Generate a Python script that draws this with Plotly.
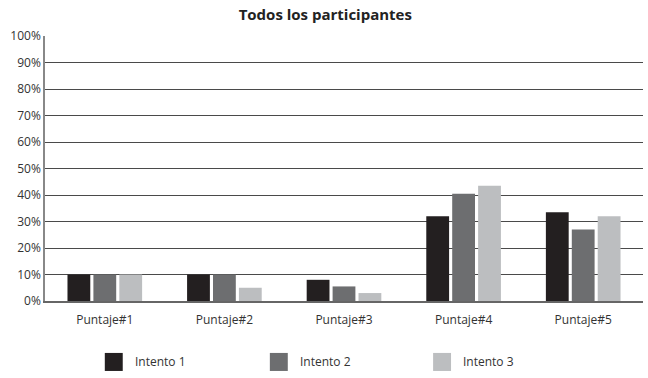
import plotly.graph_objects as go

categories = ["Puntaje#1", "Puntaje#2", "Puntaje#3", "Puntaje#4", "Puntaje#5"]
series_names = ["Intento 1", "Intento 2", "Intento 3"]
intento1 = [10, 10, 8, 32, 33.5]
intento2 = [10, 10, 5.5, 40.5, 27]
intento3 = [10, 5, 3, 43.5, 32]
series_values = [intento1, intento2, intento3]
colors = ["#231f20", "#6d6e70", "#bcbec0"]
y_ticks = list(range(0, 101, 10))
y_tick_labels = [f"{v}%" for v in y_ticks]

fig = go.Figure()
for name, vals, c in zip(series_names, series_values, colors):
    fig.add_trace(go.Bar(x=categories, y=vals, name=name, marker_color=c,
                         marker_line_width=0, showlegend=False))

# legend drawn as squares + labels below the plot
legend_x = [0.100, 0.376, 0.649]
for name, c, lx in zip(series_names, colors, legend_x):
    fig.add_shape(type="rect", xref="paper", yref="paper",
                  x0=lx, x1=lx + 0.030, y0=-0.264, y1=-0.196,
                  fillcolor=c, line_width=0)
    fig.add_annotation(text=name, xref="paper", yref="paper", x=lx + 0.047, y=-0.230,
                       xanchor="left", yanchor="middle", showarrow=False,
                       font=dict(size=12, color="#333"))

fig.update_layout(
    width=648, height=378,
    margin=dict(l=45, r=5, t=36, b=77),
    paper_bgcolor="white", plot_bgcolor="white",
    barmode="group", bargap=0.35, bargroupgap=0.12,
    title=dict(text="<b>Todos los participantes</b>", x=0.502, xref="container",
               y=0.962, yref="container", yanchor="middle",
               font=dict(family="Open Sans", size=15, color="#222")),
    font=dict(family="Open Sans", size=12, color="#333"),
    xaxis=dict(showline=True, linecolor="#666", linewidth=1.5, ticks="",
               ticklabelstandoff=7, tickfont=dict(size=12, color="#333")),
    yaxis=dict(range=[0, 100], tickvals=y_ticks, ticktext=y_tick_labels,
               showgrid=True, gridcolor="#4a4a4a", gridwidth=1.3,
               showline=True, linecolor="#888", linewidth=1.5,
               ticks="", zeroline=False, tickfont=dict(size=12, color="#333")),
)

fig.write_html("out.html", config={"displayModeBar": False},
               post_script="document.body.style.margin='0';")
